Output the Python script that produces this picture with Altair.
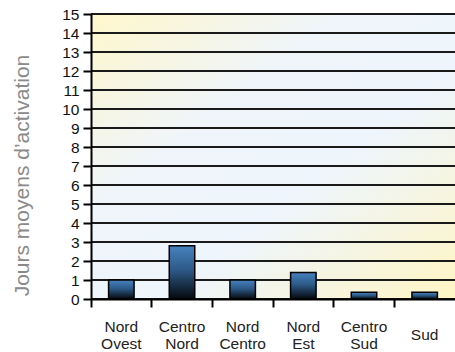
import altair as alt
import pandas as pd

# Average activation days per macro-region
regions = ["Nord Ovest", "Centro Nord", "Nord Centro", "Nord Est", "Centro Sud", "Sud"]
days = [1.0, 2.8, 1.0, 1.4, 0.35, 0.35]
y_ticks = list(range(0, 16))

W, H = 364, 285
FONT = "Liberation Sans"

bars_df = pd.DataFrame({"region": regions, "days": days})
grid_df = pd.DataFrame({"v": y_ticks})

x_scale = alt.Scale(domain=regions, paddingInner=0, paddingOuter=0)
y_scale = alt.Scale(domain=[0, 15], nice=False)

y_axis = alt.Axis(
    values=y_ticks,
    title="Jours moyens d\u2019activation",
    titleFont=FONT,
    titleFontSize=21,
    titleFontWeight="normal",
    titleColor="#8a8a8a",
    titleAngle=-90,
    titleAlign="center",
    titleBaseline="alphabetic",
    titleX=-63,
    titleY=161,
    labelFont=FONT,
    labelFontSize=15.5,
    labelColor="#111111",
    labelPadding=4,
    tickSize=8,
    tickColor="#000000",
    tickWidth=2,
    domainColor="#000000",
    domainWidth=2,
    grid=False,
    zindex=1,
)

# Soft diagonal backdrop: pale yellow corners, light blue middle
backdrop = alt.Chart(alt.Data(values=[{}])).mark_rect(
    color=alt.LinearGradient(
        gradient="linear",
        x1=0, y1=0, x2=1, y2=1,
        stops=[
            alt.GradientStop(offset=0.0, color="#fff7cc"),
            alt.GradientStop(offset=0.35, color="#eff5fb"),
            alt.GradientStop(offset=0.6, color="#eef5fc"),
            alt.GradientStop(offset=1.0, color="#fff5c4"),
        ],
    )
).encode(
    x=alt.value(0), x2=alt.value(W), y=alt.value(0), y2=alt.value(H)
)

# Horizontal gridlines, drawn beneath the bars
grid = alt.Chart(grid_df).mark_rule(color="#1a1a1a", strokeWidth=2).encode(
    y=alt.Y("v:Q", scale=y_scale, axis=y_axis)
)

# Two-line labels start higher; the single-line one sits between their rows
label_pad = {"condition": {"test": "indexof(datum.value, ' ') < 0", "value": 32}, "value": 24}

bars = alt.Chart(bars_df).mark_bar(
    width=alt.RelativeBandSize(0.42),
    stroke="#000000",
    strokeWidth=1.5,
    color=alt.LinearGradient(
        gradient="linear",
        x1=0, y1=0, x2=0, y2=1,
        stops=[
            alt.GradientStop(offset=0.0, color="#4782bf"),
            alt.GradientStop(offset=0.45, color="#2d5a88"),
            alt.GradientStop(offset=1.0, color="#05080c"),
        ],
    ),
).encode(
    x=alt.X(
        "region:N",
        sort=regions,
        scale=x_scale,
        axis=alt.Axis(
            title=None,
            labelAngle=0,
            bandPosition=0,
            labelExpr="split(datum.label, ' ')",
            labelFont=FONT,
            labelFontSize=15.5,
            labelColor="#222222",
            labelLineHeight=17,
            labelBaseline="alphabetic",
            labelPadding=label_pad,
            tickSize=8,
            tickColor="#000000",
            tickWidth=2,
            domainColor="#000000",
            domainWidth=2,
            grid=False,
            zindex=1,
        ),
    ),
    y=alt.Y("days:Q", scale=y_scale, axis=y_axis),
)

chart = (
    alt.layer(backdrop, grid, bars)
    .properties(
        width=W,
        height=H,
        autosize=alt.AutoSizeParams(type="none"),
        padding={"left": 91, "top": 14, "right": 0, "bottom": 53},
        background="#ffffff",
    )
    .configure_view(stroke=None)
)

chart.save("out.html", embed_options={"renderer": "svg", "actions": False})
